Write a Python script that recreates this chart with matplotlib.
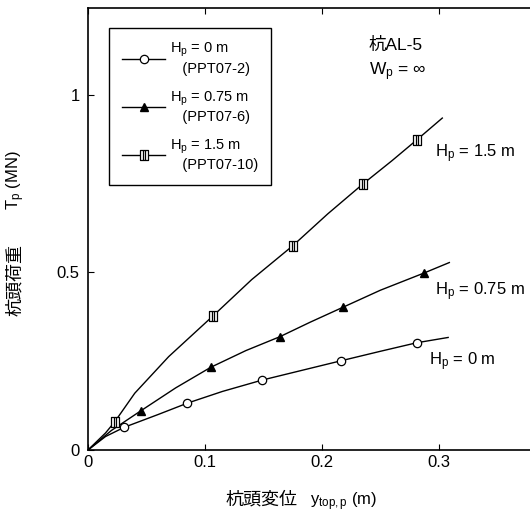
import numpy as np
import matplotlib
matplotlib.use("Agg")
import matplotlib.pyplot as plt
from matplotlib.path import Path

plt.rcParams['font.family'] = ['Liberation Sans', 'Noto Sans CJK JP', 'DejaVu Sans']
plt.rcParams['mathtext.fontset'] = 'custom'
plt.rcParams['mathtext.rm'] = 'Liberation Sans'
plt.rcParams['mathtext.it'] = 'Liberation Sans'

# Hp = 0 m (PPT07-2)
x_0 = [0, 0.015, 0.031, 0.06, 0.085, 0.115, 0.149, 0.18, 0.216, 0.25, 0.281, 0.308]
y_0 = [0, 0.038, 0.064, 0.10, 0.132, 0.165, 0.197, 0.222, 0.251, 0.278, 0.302, 0.317]
mk_0 = [2, 4, 6, 8, 10]

# Hp = 0.75 m (PPT07-6)
x_075 = [0, 0.02, 0.045, 0.075, 0.105, 0.135, 0.164, 0.19, 0.218, 0.25, 0.287, 0.309]
y_075 = [0, 0.055, 0.11, 0.175, 0.233, 0.28, 0.319, 0.36, 0.402, 0.45, 0.498, 0.528]
mk_075 = [2, 4, 6, 8, 10]

# Hp = 1.5 m (PPT07-10)
x_15 = [0, 0.015, 0.023, 0.04, 0.069, 0.107, 0.14, 0.175, 0.205, 0.235, 0.26, 0.281, 0.303]
y_15 = [0, 0.048, 0.08, 0.16, 0.263, 0.378, 0.48, 0.575, 0.665, 0.749, 0.815, 0.873, 0.935]
mk_15 = [2, 5, 7, 9, 11]

labels = [r'H$_\mathrm{p}$ = 0 m' + '\n   (PPT07-2)',
          r'H$_\mathrm{p}$ = 0.75 m' + '\n   (PPT07-6)',
          r'H$_\mathrm{p}$ = 1.5 m' + '\n   (PPT07-10)']

# box marker with two inner vertical bars
verts = [(-0.8, -1), (0.8, -1), (0.8, 1), (-0.8, 1), (-0.8, -1),
         (-0.27, -1), (-0.27, 1), (0.27, -1), (0.27, 1)]
codes = [Path.MOVETO, Path.LINETO, Path.LINETO, Path.LINETO, Path.CLOSEPOLY,
         Path.MOVETO, Path.LINETO, Path.MOVETO, Path.LINETO]
box_marker = Path(verts, codes)

fig = plt.figure(figsize=(5.3, 5.18), dpi=100)
ax = fig.add_axes([88/530, 68/518, 442/530, 442/518])

ax.plot(x_0, y_0, color='black', lw=1, marker='o', ms=6, mfc='white', mec='black',
        mew=0.9, markevery=mk_0, label=labels[0])
ax.plot(x_075, y_075, color='black', lw=1, marker='^', ms=6, mfc='black', mec='black',
        markevery=mk_075, label=labels[1])
ax.plot(x_15, y_15, color='black', lw=1, marker=box_marker, ms=7.5, mfc='white', mec='black',
        mew=0.9, markevery=mk_15, label=labels[2])

ax.set_xlim(0, 0.378)
ax.set_ylim(0, 1.245)
ax.set_xticks([0, 0.1, 0.2, 0.3])
ax.set_xticklabels(['0', '0.1', '0.2', '0.3'])
ax.set_yticks([0, 0.5, 1])
ax.set_yticklabels(['0', '0.5', '1'])
ax.tick_params(direction='in', length=4, width=0.8, labelsize=12, top=True)
ax.tick_params(axis='y', pad=6)
ax.spines['right'].set_visible(False)
for s in ['left', 'bottom', 'top']:
    ax.spines[s].set_linewidth(1.2)

leg = ax.legend(loc='upper left', bbox_to_anchor=(0.0475, 0.955), borderaxespad=0,
                fontsize=10.5, frameon=True, fancybox=False, edgecolor='black',
                framealpha=1, handlelength=2.95, labelspacing=0.95, borderpad=0.9,
                handletextpad=0.3)
leg.get_frame().set_linewidth(1.0)

ax.text(0.24, 1.14, '杭AL-5', fontsize=12.5, va='center', ha='left')
ax.text(0.24, 1.065, r'W$_\mathrm{p}$ = ∞', fontsize=12.5, va='center', ha='left')
ax.text(0.297, 0.836, r'H$_\mathrm{p}$ = 1.5 m', fontsize=12, va='center', ha='left')
ax.text(0.297, 0.445, r'H$_\mathrm{p}$ = 0.75 m', fontsize=12, va='center', ha='left')
ax.text(0.292, 0.25, r'H$_\mathrm{p}$ = 0 m', fontsize=12, va='center', ha='left')

fig.text(262/530, 1 - 505/518, '杭頭変位', fontsize=13, ha='center', va='baseline')
fig.text(310/530, 1 - 505/518, r'y$_\mathrm{top,p}$ (m)', fontsize=12,
         ha='left', va='baseline')
fig.text(16/530, 1 - 280/518, '杭頭荷重', fontsize=13,
         ha='center', va='center', rotation=90)
fig.text(16/530, 1 - 180/518, r'T$_\mathrm{p}$ (MN)', fontsize=12,
         ha='center', va='center', rotation=90)

fig.savefig('out.png', dpi=100)
